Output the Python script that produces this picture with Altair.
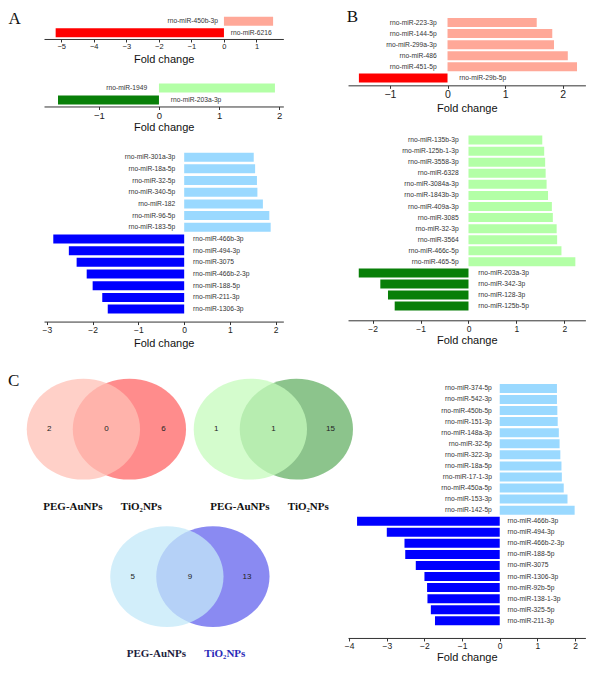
import altair as alt
import pandas as pd

# ---------------- data ----------------
a1_names = ["rno-miR-450b-3p", "rno-miR-6216"]
a1_values = [1.51, -5.17]

a2_names = ["rno-miR-1949", "rno-miR-203a-3p"]
a2_values = [1.93, -1.68]

a3_names = ["rno-miR-301a-3p", "rno-miR-18a-5p", "rno-miR-32-5p", "rno-miR-340-5p",
            "rno-miR-182", "rno-miR-96-5p", "rno-miR-183-5p",
            "rno-miR-466b-3p", "rno-miR-494-3p", "rno-miR-3075", "rno-miR-466b-2-3p",
            "rno-miR-188-5p", "rno-miR-211-3p", "rno-miR-1306-3p"]
a3_values = [1.52, 1.55, 1.59, 1.60, 1.72, 1.86, 1.89,
             -2.86, -2.52, -2.35, -2.13, -2.00, -1.79, -1.67]

b1_names = ["rno-miR-223-3p", "rno-miR-144-5p", "rno-miR-299a-3p", "rno-miR-486",
            "rno-miR-451-5p", "rno-miR-29b-5p"]
b1_values = [1.55, 1.82, 1.85, 2.09, 2.25, -1.54]

b2_names = ["rno-miR-135b-3p", "rno-miR-125b-1-3p", "rno-miR-3558-3p", "rno-miR-6328",
            "rno-miR-3084a-3p", "rno-miR-1843b-3p", "rno-miR-409a-3p", "rno-miR-3085",
            "rno-miR-32-3p", "rno-miR-3564", "rno-miR-466c-5p", "rno-miR-465-5p",
            "rno-miR-203a-3p", "rno-miR-342-3p", "rno-miR-128-3p", "rno-miR-125b-5p"]
b2_values = [1.54, 1.58, 1.60, 1.61, 1.63, 1.66, 1.74, 1.76, 1.84, 1.85, 1.94, 2.23,
             -2.29, -1.84, -1.68, -1.54]

c_names = ["rno-miR-374-5p", "rno-miR-542-3p", "rno-miR-450b-5p", "rno-miR-151-3p",
           "rno-miR-148a-3p", "rno-miR-32-5p", "rno-miR-322-3p", "rno-miR-18a-5p",
           "rno-miR-17-1-3p", "rno-miR-450a-5p", "rno-miR-153-3p", "rno-miR-142-5p",
           "rno-miR-466b-3p", "rno-miR-494-3p", "rno-miR-466b-2-3p", "rno-miR-188-5p",
           "rno-miR-3075", "rno-miR-1306-3p", "rno-miR-92b-5p", "rno-miR-138-1-3p",
           "rno-miR-325-5p", "rno-miR-211-3p"]
c_values = [1.52, 1.52, 1.53, 1.54, 1.57, 1.59, 1.61, 1.64, 1.65, 1.70, 1.80, 1.99,
            -3.79, -3.00, -2.53, -2.51, -2.23, -2.00, -1.93, -1.92, -1.83, -1.72]

venn_left_only = [2, 1, 5]
venn_both = [0, 1, 9]
venn_right_only = [6, 15, 13]
venn_set_labels = ["PEG-AuNPs", "TiO\u2082NPs"]

# ---------------- styling / layout ----------------
SANS = "Liberation Sans"
SERIF = "Liberation Serif"
SALMON, RED = "#FFA898", "#FF0000"
LGREEN, DGREEN = "#B3FFA6", "#087F08"
LBLUE, BLUE = "#9AD9FF", "#0000FF"

SX, SY = 0.985, 0.974        # squeeze so the page fits the window
LW, RW, GAP = 243 * SX, 241 * SX, 65 * SX


def bar_panel(names, values, pos_color, neg_color, dom, ticks, top, first, step,
              height, width, dx_pos, dx_neg, label_size, title_pad, offset=0):
    df = pd.DataFrame({"name": names, "value": values, "row": list(range(len(names)))})
    d0 = -(first - top) / step
    d1 = d0 + height / step
    axis = alt.Axis(values=ticks, title="Fold change", orient="bottom", offset=offset * SY,
                    grid=False, domainColor="#333", domainWidth=1, tickColor="#333",
                    tickSize=3, labelPadding=1, labelFont=SANS, labelFontSize=label_size,
                    labelColor="#222", titleFont=SANS, titleFontSize=11,
                    titleFontWeight="normal", titleColor="#111", titlePadding=title_pad,
                    format="d", labelFlush=False)
    xs = alt.Scale(domain=dom, nice=False, zero=False, padding=0)
    ys = alt.Scale(domain=[d0, d1], reverse=True, nice=False, zero=False, padding=0)
    base = alt.Chart(df).transform_calculate(z="0")
    y = alt.Y("row:Q", scale=ys, axis=None)
    bars = base.mark_bar(size=9, orient="horizontal").encode(
        x=alt.X("value:Q", scale=xs, axis=axis),
        x2="z:Q",
        y=y,
        color=alt.when(alt.datum.value > 0).then(alt.value(pos_color)).otherwise(alt.value(neg_color)),
    )
    xz = alt.X("z:Q", scale=xs, axis=axis)
    pos = base.transform_filter("datum.value > 0").mark_text(
        align="right", baseline="middle", dx=dx_pos * SX, font=SANS, fontSize=6.7, color="#333"
    ).encode(x=xz, y=y, text="name:N")
    neg = base.transform_filter("datum.value < 0").mark_text(
        align="left", baseline="middle", dx=dx_neg * SX, font=SANS, fontSize=6.7, color="#333"
    ).encode(x=xz, y=y, text="name:N")
    return alt.layer(bars, pos, neg).properties(width=width, height=height * SY)


def letter(t, x, y):
    return alt.Chart(pd.DataFrame({"t": [t]})).mark_text(
        align="left", baseline="middle", font=SERIF, fontSize=17, color="#111"
    ).encode(text="t:N", x=alt.value(x * SX), y=alt.value(y * SY))


# ---- A (two small panels share one cell) ----
A1 = bar_panel(a1_names, a1_values, SALMON, RED, [-5.528, 1.825], [-5, -4, -3, -2, -1, 0, 1],
               5, 14.5, 11.7, 97, LW, -6, 7, 7.5, 3, offset=-69.3)
A2 = bar_panel(a2_names, a2_values, LGREEN, DGREEN, [-1.913, 2.07], [-1, 0, 1, 2],
               5, 83, 12.3, 97, LW, -12, 12, 9.5, 2)
A12 = alt.layer(A1, A2, letter("A", -36, 7.5)).resolve_scale(
    x="independent", y="independent").properties(width=LW, height=97 * SY)

A3 = bar_panel(a3_names, a3_values, LBLUE, BLUE, [-3.063, 2.167], [-3, -2, -1, 0, 1, 2],
               102, 153.5, 12, 220.3, LW, -9, 9, 8.5, 3)

# ---- B ----
B1 = alt.layer(
    bar_panel(b1_names, b1_values, SALMON, RED, [-1.729, 2.396], [-1, 0, 1, 2],
              5, 15.8, 11.37, 75.3, RW, -11, 12, 10.5, 3),
    letter("B", -1.3, 5.5),
).properties(width=RW, height=75.3 * SY)
B2 = bar_panel(b2_names, b2_values, LGREEN, DGREEN, [-2.514, 2.44], [-2, -1, 0, 1, 2],
               102, 136, 11.36, 220.3, RW, -10, 10, 8.5, 2, offset=-1.3)

# ---- C bar ----
CB = bar_panel(c_names, c_values, LBLUE, BLUE, [-4.03, 2.276], [-4, -3, -2, -1, 0, 1, 2],
               322.3, 390.5, 11.36, 324.4, RW, -8, 8, 8.5, 1)

# ---- C venn diagrams ----
venn_col = [0, 1, 0.5]
venn_row = [0, 0, 1]
COLU, ROWU = 169.5, 151.4           # reference pixels per layout unit
SET_OFF = 23.35 / COLU
NUM_OFF = 58.0 / COLU
VH = 347.7
vx = alt.Scale(domain=[-63.35 / COLU, (243 - 63.35) / COLU], nice=False, zero=False, padding=0)
vy0 = -110.0 / ROWU
vy = alt.Scale(domain=[vy0, vy0 + VH / ROWU], reverse=True, nice=False, zero=False, padding=0)

venn_colors = [("#FF6666", "#FFC0B6"), ("#66B066", "#C6FBBC"), ("#6363EE", "#C3E8F8")]
circ = []
for k in range(3):
    for s in (1, 0):   # right set first, left set drawn on top
        circ.append({"cx": venn_col[k] + (2 * s - 1) * SET_OFF, "cy": venn_row[k],
                     "col": venn_colors[k][0 if s == 1 else 1]})
circ_df = pd.DataFrame(circ)
RATIO = 0.9 * SY / SX
ELLIPSE = f"M -1 0 A 1 {RATIO:.4f} 0 1 1 1 0 A 1 {RATIO:.4f} 0 1 1 -1 0 Z"
circles = alt.Chart(circ_df).mark_point(
    shape=ELLIPSE, filled=True, size=(115 * SX) ** 2, opacity=0.75, strokeWidth=0
).encode(
    x=alt.X("cx:Q", scale=vx, axis=None),
    y=alt.Y("cy:Q", scale=vy, axis=None),
    color=alt.Color("col:N", scale=None),
)

nums = []
for k in range(3):
    for p, v in zip((-1, 0, 1), (venn_left_only[k], venn_both[k], venn_right_only[k])):
        nums.append({"cx": venn_col[k] + p * NUM_OFF, "cy": venn_row[k], "n": str(v)})
num_text = alt.Chart(pd.DataFrame(nums)).mark_text(
    font=SANS, fontSize=8, color="#222", baseline="middle"
).encode(x=alt.X("cx:Q", scale=vx, axis=None), y=alt.Y("cy:Q", scale=vy, axis=None), text="n:N")

labs = []
lab_colors = [("#111111", "#111111"), ("#111111", "#111111"), ("#1c1c3c", "#2a2ab8")]
for k in range(3):
    labs.append({"cx": venn_col[k] - 34 / COLU, "cy": venn_row[k] + 79.5 / ROWU,
                 "t": venn_set_labels[0], "c": lab_colors[k][0]})
    labs.append({"cx": venn_col[k] + 35.5 / COLU, "cy": venn_row[k] + 79.5 / ROWU,
                 "t": venn_set_labels[1], "c": lab_colors[k][1]})
lab_text = alt.Chart(pd.DataFrame(labs)).mark_text(
    font=SERIF, fontSize=11, fontWeight="bold", baseline="middle"
).encode(x=alt.X("cx:Q", scale=vx, axis=None), y=alt.Y("cy:Q", scale=vy, axis=None),
         text="t:N", color=alt.Color("c:N", scale=None))

VENN = alt.layer(circles, num_text, lab_text, letter("C", -36.5, 60.2)).properties(
    width=LW, height=VH * SY)

chart = alt.concat(
    A12, B1, A3, B2, VENN, CB, columns=2,
    spacing=alt.RowColnumber(row=0, column=GAP), bounds="flush", align="each",
).properties(padding=0).configure_view(stroke=None)

chart.save("out.html", embed_options={"renderer": "svg", "actions": False})
